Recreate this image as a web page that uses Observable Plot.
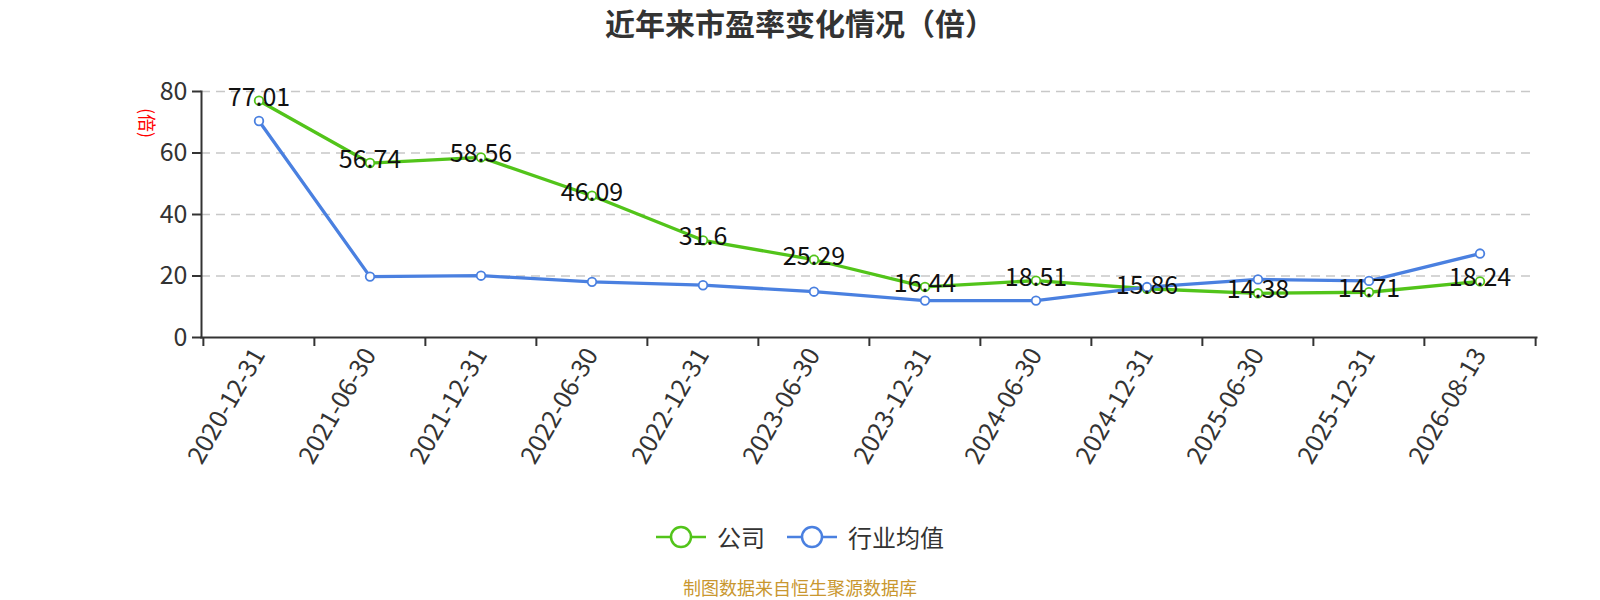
<!DOCTYPE html>
<html>
<head>
<meta charset="utf-8">
<script src="https://cdn.jsdelivr.net/npm/d3@7"></script>
<script src="https://cdn.jsdelivr.net/npm/@observablehq/plot@0.6"></script>
<style>
  html, body { margin: 0; padding: 0; background: #fff; }
  #wrap { position: relative; width: 1600px; height: 600px; overflow: hidden; font-family: "Noto Sans CJK SC", "Noto Sans", sans-serif; }
  #title { position: absolute; left: 0; width: 1600px; top: 2px; text-align: center; font-size: 30px; font-weight: bold; color: #333; line-height: 40px; }
  #ytitle { position: absolute; left: 148px; top: 123px; transform: translate(-50%, -50%) rotate(90deg); color: #f00; font-size: 18px; white-space: nowrap; line-height: 20px; }
  #legend { position: absolute; left: 0; width: 1600px; top: 520px; display: flex; justify-content: center; align-items: center; gap: 22px; font-size: 24px; color: #333; line-height: 34px; }
  .item { display: flex; align-items: center; gap: 11px; }
  #caption { position: absolute; left: 0; width: 1600px; top: 577px; text-align: center; font-size: 18px; color: #c9972f; line-height: 21px; }
  #chart { position: absolute; left: 0; top: 0; }
</style>
</head>
<body>
<div id="wrap">
  <div id="chart"></div>
  <div id="title"></div>
  <div id="ytitle"></div>
  <div id="legend"></div>
  <div id="caption"></div>
</div>
<script>
const categories = ["2020-12-31","2021-06-30","2021-12-31","2022-06-30","2022-12-31","2023-06-30","2023-12-31","2024-06-30","2024-12-31","2025-06-30","2025-12-31","2026-08-13"];
const companyPE = [77.01, 56.74, 58.56, 46.09, 31.6, 25.29, 16.44, 18.51, 15.86, 14.38, 14.71, 18.24];
const industryPE = [70.4, 19.8, 20.1, 18.1, 17.0, 14.9, 12.0, 12.0, 16.4, 18.9, 18.4, 27.3];
const yTicks = [0, 20, 40, 60, 80];
const seriesNames = ["公司", "行业均值"];
const seriesColors = ["#52c41a", "#4a80e0"];
const titleText = "近年来市盈率变化情况（倍）";
const yTitleText = "(倍)";
const captionText = "制图数据来自恒生聚源数据库";

const rows = categories.map((c, i) => ({date: c, company: companyPE[i], industry: industryPE[i]}));

const W = 1600, H = 600, mL = 201, mR = 64, mT = 91, mB = 263;
const bw = (W - mL - mR) / categories.length;

const chart = Plot.plot({
  width: W, height: H,
  marginTop: mT, marginBottom: mB, marginLeft: mL, marginRight: mR,
  style: {fontFamily: "Noto Sans CJK SC, Noto Sans, sans-serif", background: "transparent", overflow: "visible"},
  x: {type: "band", domain: categories, padding: 0},
  y: {domain: [0, 80], ticks: yTicks},
  marks: [
    Plot.gridY(yTicks.filter(d => d > 0), {stroke: "#c8c8c8", strokeOpacity: 1, strokeWidth: 1.5, strokeDasharray: "9,6"}),
    Plot.axisY({ticks: yTicks, tickSize: 9, tickPadding: 5, fontSize: 25, fill: "#333", stroke: "#333", strokeWidth: 2, label: null}),
    Plot.axisX({tickSize: 0, tickPadding: 13, tickRotate: -60, fontSize: 25, fill: "#333", label: null}),
    Plot.axisX({tickSize: 9, tickFormat: () => "", dx: -bw / 2, stroke: "#333", strokeWidth: 2, label: null}),
    Plot.axisX([categories[categories.length - 1]], {tickSize: 9, tickFormat: () => "", dx: bw / 2, stroke: "#333", strokeWidth: 2, label: null}),
    Plot.frame({anchor: "left", stroke: "#333", strokeWidth: 2}),
    Plot.frame({anchor: "bottom", stroke: "#333", strokeWidth: 2}),
    Plot.line(rows, {x: "date", y: "company", stroke: seriesColors[0], strokeWidth: 3.3}),
    Plot.dot(rows, {x: "date", y: "company", r: 4.3, fill: "#fff", stroke: seriesColors[0], strokeWidth: 1.8}),
    Plot.line(rows, {x: "date", y: "industry", stroke: seriesColors[1], strokeWidth: 3.3}),
    Plot.dot(rows, {x: "date", y: "industry", r: 4.3, fill: "#fff", stroke: seriesColors[1], strokeWidth: 1.8}),
    Plot.text(rows, {x: "date", y: "company", text: d => String(d.company), fontSize: 25, fill: "#111", dy: -3, lineAnchor: "middle"})
  ]
});
document.getElementById("chart").appendChild(chart);

document.getElementById("title").textContent = titleText;
document.getElementById("ytitle").textContent = yTitleText;
document.getElementById("caption").textContent = captionText;

const legend = document.getElementById("legend");
seriesNames.forEach((name, i) => {
  const item = document.createElement("div");
  item.className = "item";
  item.innerHTML = `<svg width="50" height="26" viewBox="0 0 50 26"><line x1="0" y1="13" x2="50" y2="13" stroke="${seriesColors[i]}" stroke-width="2.5"/><circle cx="25" cy="13" r="10" fill="#fff" stroke="${seriesColors[i]}" stroke-width="2.5"/></svg><span>${name}</span>`;
  legend.appendChild(item);
});
</script>
</body>
</html>
